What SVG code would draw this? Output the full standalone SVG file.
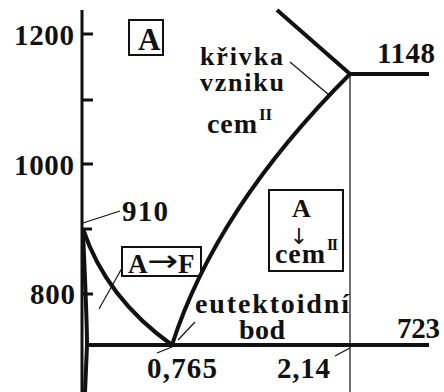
<svg xmlns="http://www.w3.org/2000/svg" width="444" height="392" viewBox="0 0 444 392">
<style>
.t{font-family:"Liberation Serif","Times New Roman",serif;font-weight:bold;fill:#111;}
.ar{font-family:"DejaVu Sans",sans-serif;font-weight:normal;fill:#111;}
.thick{stroke:#111;stroke-width:4;fill:none;stroke-linecap:butt;}
.axis{stroke:#111;stroke-width:3;fill:none;}
.thin{stroke:#111;stroke-width:1.2;fill:none;}
.box{stroke:#111;stroke-width:2;fill:none;}
</style>
<rect width="444" height="392" fill="#fff"/>
<g id="axis">
<line class="axis" x1="82" y1="10" x2="82" y2="392"/>
<line class="axis" x1="82" y1="34" x2="93" y2="34"/>
<line class="axis" x1="82" y1="100" x2="93" y2="100"/>
<line class="axis" x1="82" y1="164" x2="93" y2="164"/>
<line class="axis" x1="82" y1="229" x2="92" y2="229"/>
<line class="axis" x1="82" y1="294" x2="93" y2="294"/>
<text class="t" x="74" y="45" font-size="29" text-anchor="end" textLength="60">1200</text>
<text class="t" x="74" y="175" font-size="29" text-anchor="end" textLength="60">1000</text>
<text class="t" x="75" y="304" font-size="29" text-anchor="end" textLength="45">800</text>
</g>
<g id="connectors">
<path class="thick" d="M277,10 L350,74 L429,74"/>
<line class="thick" x1="86" y1="345" x2="429" y2="345"/>
<path class="thick" d="M172,345 Q216,208 350,74"/>
<path class="thick" d="M83,229 Q106,298 172,345"/>
<path class="thick" d="M83,232 C85,280 87,320 87,345 L85,392" stroke-width="2.5"/>
<line class="thin" x1="350" y1="74" x2="350" y2="392"/>
<line class="thin" x1="83" y1="223" x2="120" y2="211"/>
<line class="thin" x1="290" y1="62" x2="329" y2="95"/>
<line class="thin" x1="122" y1="268" x2="99" y2="309"/>
<line class="thin" x1="178" y1="340" x2="195" y2="322"/>
<line class="thin" x1="157" y1="353" x2="172" y2="347"/>
<line class="thin" x1="335" y1="356" x2="350" y2="348"/>
</g>
<g id="label-910"><text class="t" x="122" y="221" font-size="29" textLength="46">910</text></g>
<g id="label-1148"><text class="t" x="377" y="63" font-size="29" textLength="58">1148</text></g>
<g id="label-723"><text class="t" x="397" y="338" font-size="29" textLength="43">723</text></g>
<g id="label-0765"><text class="t" x="147" y="378" font-size="29" textLength="70">0,765</text></g>
<g id="label-214"><text class="t" x="277" y="378" font-size="29" textLength="53">2,14</text></g>
<g id="label-eutektoid">
<text class="t" x="195" y="313" font-size="28" textLength="154">eutektoidní</text>
<text class="t" x="239" y="339" font-size="28" textLength="46">bod</text>
</g>
<g id="label-krivka">
<text class="t" x="200" y="65" font-size="26" textLength="83">křivka</text>
<text class="t" x="200" y="91" font-size="26" textLength="84">vzniku</text>
<text class="t" x="207" y="133" font-size="28" textLength="50">cem</text>
<text class="t" x="259" y="120" font-size="17" textLength="13">II</text>
</g>
<g id="box-A">
<rect class="box" x="129" y="20" width="34" height="35"/>
<text class="t" x="138" y="50" font-size="31" textLength="19">A</text>
</g>
<g id="box-AF">
<rect class="box" x="122" y="247" width="79" height="29"/>
<text class="t" font-size="27"><tspan x="128" y="273">A</tspan><tspan class="ar" x="147" y="271" font-size="30" textLength="31" lengthAdjust="spacingAndGlyphs">→</tspan><tspan x="178" y="273">F</tspan></text>
</g>
<g id="box-Acem">
<rect class="box" x="269" y="190" width="74" height="81"/>
<text class="t" x="292" y="217" font-size="26" textLength="20">A</text>
<text class="ar" x="299" y="244" font-size="22" text-anchor="middle">↓</text>
<text class="t" x="275" y="263" font-size="28" textLength="50">cem</text>
<text class="t" x="327" y="250" font-size="16" textLength="11">II</text>
</g>
</svg>
